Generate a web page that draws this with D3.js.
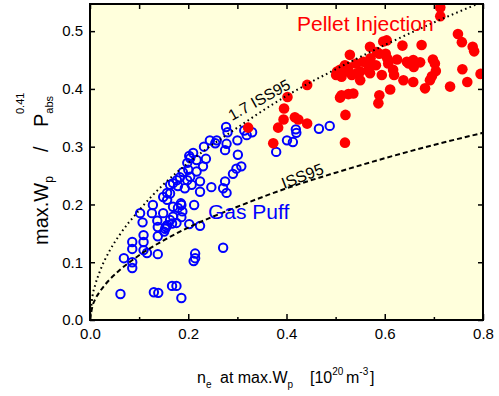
<!DOCTYPE html>
<html>
<head>
<meta charset="utf-8">
<script src="https://cdn.jsdelivr.net/npm/d3@7"></script>
<style>
  body { margin: 0; background: #fff; }
  text { font-family: "Liberation Sans", Arial, sans-serif; }
</style>
</head>
<body>
<div id="chart"></div>
<script>
// gas puff shots (open blue circles)
const blueN = [0.062, 0.069, 0.086, 0.086, 0.086, 0.086, 0.102, 0.107, 0.109, 0.109, 0.109, 0.116,
  0.128, 0.126, 0.137, 0.138, 0.138, 0.130, 0.139, 0.149, 0.151, 0.155, 0.163, 0.167, 0.169, 0.167,
  0.176, 0.186, 0.188, 0.186, 0.212, 0.214, 0.211, 0.224, 0.271, 0.202, 0.198, 0.189, 0.183, 0.177,
  0.169, 0.163, 0.179, 0.198, 0.193, 0.157, 0.149, 0.163, 0.157, 0.185, 0.179, 0.186, 0.169, 0.157,
  0.138, 0.176, 0.153, 0.202, 0.277, 0.280, 0.244, 0.258, 0.255, 0.232, 0.278, 0.275, 0.300, 0.314,
  0.319, 0.330, 0.379, 0.210, 0.204, 0.217, 0.236, 0.230, 0.301, 0.308, 0.298, 0.291, 0.217, 0.204,
  0.224, 0.275, 0.247, 0.271, 0.224, 0.207, 0.278, 0.200, 0.401, 0.413, 0.420, 0.419, 0.466, 0.488,
  0.214];
const blueW = [0.045, 0.107, 0.135, 0.123, 0.100, 0.090, 0.185, 0.169, 0.147, 0.135, 0.121, 0.116,
  0.199, 0.185, 0.172, 0.145, 0.114, 0.048, 0.047, 0.185, 0.153, 0.161, 0.173, 0.167, 0.196, 0.059,
  0.059, 0.199, 0.188, 0.038, 0.199, 0.115, 0.102, 0.163, 0.125, 0.284, 0.272, 0.256, 0.247, 0.242,
  0.237, 0.234, 0.232, 0.242, 0.228, 0.220, 0.213, 0.219, 0.208, 0.202, 0.194, 0.178, 0.179, 0.164,
  0.161, 0.168, 0.158, 0.166, 0.334, 0.325, 0.311, 0.311, 0.306, 0.300, 0.305, 0.294, 0.311, 0.328,
  0.320, 0.325, 0.291, 0.289, 0.280, 0.277, 0.279, 0.266, 0.286, 0.266, 0.262, 0.253, 0.257, 0.248,
  0.240, 0.240, 0.230, 0.228, 0.222, 0.234, 0.220, 0.260, 0.311, 0.308, 0.324, 0.330, 0.331, 0.336,
  0.107];

// pellet injection shots (filled red circles)
const redN = [0.713, 0.713, 0.749, 0.757, 0.779, 0.782, 0.795, 0.758, 0.768, 0.733, 0.698, 0.702,
  0.704, 0.696, 0.692, 0.682, 0.675, 0.672, 0.658, 0.659, 0.649, 0.645, 0.636, 0.625, 0.638, 0.658,
  0.619, 0.617, 0.607, 0.611, 0.605, 0.602, 0.597, 0.604, 0.589, 0.584, 0.570, 0.582, 0.571, 0.565,
  0.567, 0.570, 0.556, 0.550, 0.550, 0.542, 0.543, 0.529, 0.526, 0.526, 0.533, 0.519, 0.516, 0.509,
  0.503, 0.501, 0.512, 0.594, 0.536, 0.526, 0.512, 0.509, 0.589, 0.587, 0.520, 0.519, 0.442, 0.402,
  0.395, 0.394, 0.417, 0.424, 0.442, 0.383, 0.373, 0.322];
const redW = [0.541, 0.526, 0.495, 0.481, 0.473, 0.465, 0.426, 0.434, 0.412, 0.404, 0.451, 0.444,
  0.431, 0.422, 0.415, 0.401, 0.476, 0.446, 0.450, 0.438, 0.444, 0.447, 0.475, 0.451, 0.415, 0.412,
  0.424, 0.433, 0.444, 0.399, 0.453, 0.461, 0.482, 0.484, 0.461, 0.464, 0.473, 0.441, 0.453, 0.444,
  0.433, 0.427, 0.447, 0.430, 0.415, 0.444, 0.427, 0.459, 0.438, 0.430, 0.424, 0.441, 0.436, 0.433,
  0.430, 0.424, 0.421, 0.424, 0.392, 0.391, 0.389, 0.385, 0.389, 0.375, 0.355, 0.307, 0.407, 0.386,
  0.366, 0.347, 0.351, 0.347, 0.340, 0.333, 0.306, 0.333];

// scaling curves
const curveN = [0, 0.005, 0.01, 0.02, 0.04, 0.06, 0.1, 0.15, 0.2, 0.3, 0.4, 0.5, 0.6, 0.7, 0.8];
const iss95W = [0, 0.024, 0.035, 0.049, 0.070, 0.086, 0.112, 0.138, 0.160, 0.196, 0.228, 0.255, 0.280, 0.303, 0.324];
const iss17W = [0, 0.041, 0.059, 0.084, 0.120, 0.147, 0.190, 0.235, 0.272, 0.333, 0.388, 0.434, 0.476, 0.515, 0.551];

const xMajor = [0, 0.2, 0.4, 0.6, 0.8];
const xMinor = [0.1, 0.3, 0.5, 0.7];
const yMajor = [0, 0.1, 0.2, 0.3, 0.4, 0.5];

const width = 499, height = 396;
const margin = { top: 4, right: 16, bottom: 76, left: 90 };
const fontSize = 15;

const x = d3.scaleLinear().domain([0, 0.8]).range([margin.left, width - margin.right]);
const y = d3.scaleLinear().domain([0, 0.547]).range([height - margin.bottom, margin.top]);

const svg = d3.select("#chart").append("svg")
  .attr("width", width)
  .attr("height", height);

svg.append("defs").append("clipPath").attr("id", "plot")
  .append("rect")
  .attr("x", x(0)).attr("y", y(0.547))
  .attr("width", x(0.8) - x(0)).attr("height", y(0) - y(0.547));

svg.append("rect")
  .attr("x", x(0)).attr("y", y(0.547))
  .attr("width", x(0.8) - x(0)).attr("height", y(0) - y(0.547))
  .attr("fill", "#ffffdc");

const plot = svg.append("g").attr("clip-path", "url(#plot)");

plot.append("g").selectAll("circle")
  .data(blueN.map((n, i) => [n, blueW[i]]))
  .join("circle")
  .attr("cx", d => x(d[0]))
  .attr("cy", d => y(d[1]))
  .attr("r", 4.2)
  .attr("fill", "none")
  .attr("stroke", "#0000ff")
  .attr("stroke-width", 2);

plot.append("g").selectAll("circle")
  .data(redN.map((n, i) => [n, redW[i]]))
  .join("circle")
  .attr("cx", d => x(d[0]))
  .attr("cy", d => y(d[1]))
  .attr("r", 5.3)
  .attr("fill", "#ff0000");

const line = d3.line().x(d => x(d[0])).y(d => y(d[1])).curve(d3.curveMonotoneX);

plot.append("path")
  .attr("d", line(curveN.map((n, i) => [n, iss95W[i]])))
  .attr("fill", "none").attr("stroke", "#000")
  .attr("stroke-width", 2).attr("stroke-dasharray", "5,3");

plot.append("path")
  .attr("d", line(curveN.map((n, i) => [n, iss17W[i]])))
  .attr("fill", "none").attr("stroke", "#000")
  .attr("stroke-width", 2).attr("stroke-dasharray", "1.6,3.2");

// axes, ticks pointing inward
const bottom = height - margin.bottom;
const noLabel = () => "";

svg.append("g").attr("transform", `translate(0,${bottom})`)
  .call(d3.axisBottom(x).tickValues(xMajor).tickSize(-6).tickPadding(8)
    .tickFormat(d3.format(".1f")));
svg.append("g").attr("transform", `translate(0,${bottom})`)
  .call(d3.axisBottom(x).tickValues(xMinor).tickSize(-3).tickFormat(noLabel));
svg.append("g").attr("transform", `translate(0,${margin.top})`)
  .call(d3.axisTop(x).tickValues(xMajor.concat(xMinor)).tickSize(-5).tickFormat(noLabel));
svg.append("g").attr("transform", `translate(${margin.left},0)`)
  .call(d3.axisLeft(y).tickValues(yMajor).tickSize(-5).tickPadding(7)
    .tickFormat(d3.format(".1f")));
svg.append("g").attr("transform", `translate(${width - margin.right},0)`)
  .call(d3.axisRight(y).tickValues(yMajor).tickSize(-5).tickFormat(noLabel));

svg.selectAll(".domain").remove();
svg.selectAll(".tick line").attr("stroke", "#000").attr("stroke-width", 1.5);
svg.selectAll(".tick text").attr("font-size", fontSize).attr("fill", "#000")
  .style("font-family", '"Liberation Sans", Arial, sans-serif');

svg.append("rect")
  .attr("x", x(0)).attr("y", y(0.547))
  .attr("width", x(0.8) - x(0)).attr("height", y(0) - y(0.547))
  .attr("fill", "none").attr("stroke", "#000").attr("stroke-width", 2);

// annotations
svg.append("text").attr("x", 297).attr("y", 31).attr("font-size", 21)
  .attr("fill", "#ff0000").text("Pellet Injection");
svg.append("text").attr("x", 208).attr("y", 219).attr("font-size", 21)
  .attr("fill", "#0000ff").text("Gas Puff");
svg.append("text").attr("transform", "translate(232,121) rotate(-29)")
  .attr("font-size", 15.5).attr("fill", "#000").text("1.7 ISS95");
svg.append("text").attr("transform", "translate(284,189) rotate(-21)")
  .attr("font-size", 16).attr("fill", "#000").text("ISS95");

// x title
const xt = svg.append("text").attr("y", 383)
  .attr("font-size", 16).attr("fill", "#000");
xt.append("tspan").attr("x", 197).text("n");
xt.append("tspan").attr("font-size", 10).attr("dy", 5).text("e");
xt.append("tspan").attr("x", 220).attr("dy", -5).text("at max.W");
xt.append("tspan").attr("font-size", 10).attr("dy", 5).text("p");
xt.append("tspan").attr("x", 310).attr("dy", -5).text("[10");
xt.append("tspan").attr("font-size", 10).attr("dy", -8).text("20");
xt.append("tspan").attr("x", 346).attr("dy", 8).text("m");
xt.append("tspan").attr("font-size", 10).attr("dy", -8).text("-3");
xt.append("tspan").attr("x", 370).attr("dy", 8).text("]");

// y title
const yt = svg.append("text").attr("transform", "translate(48,245) rotate(-90)")
  .attr("font-size", 20).attr("fill", "#000");
yt.append("tspan").attr("x", 0).text("max.W");
yt.append("tspan").attr("font-size", 12).attr("dy", 5).text("p");
yt.append("tspan").attr("x", 93).attr("dy", -5).text("/");
yt.append("tspan").attr("x", 118).text("P");
yt.append("tspan").attr("font-size", 11).attr("dy", 5).text("abs");
yt.append("tspan").attr("x", 131).attr("font-size", 11).attr("dy", -29).text("0.41");
</script>
</body>
</html>
